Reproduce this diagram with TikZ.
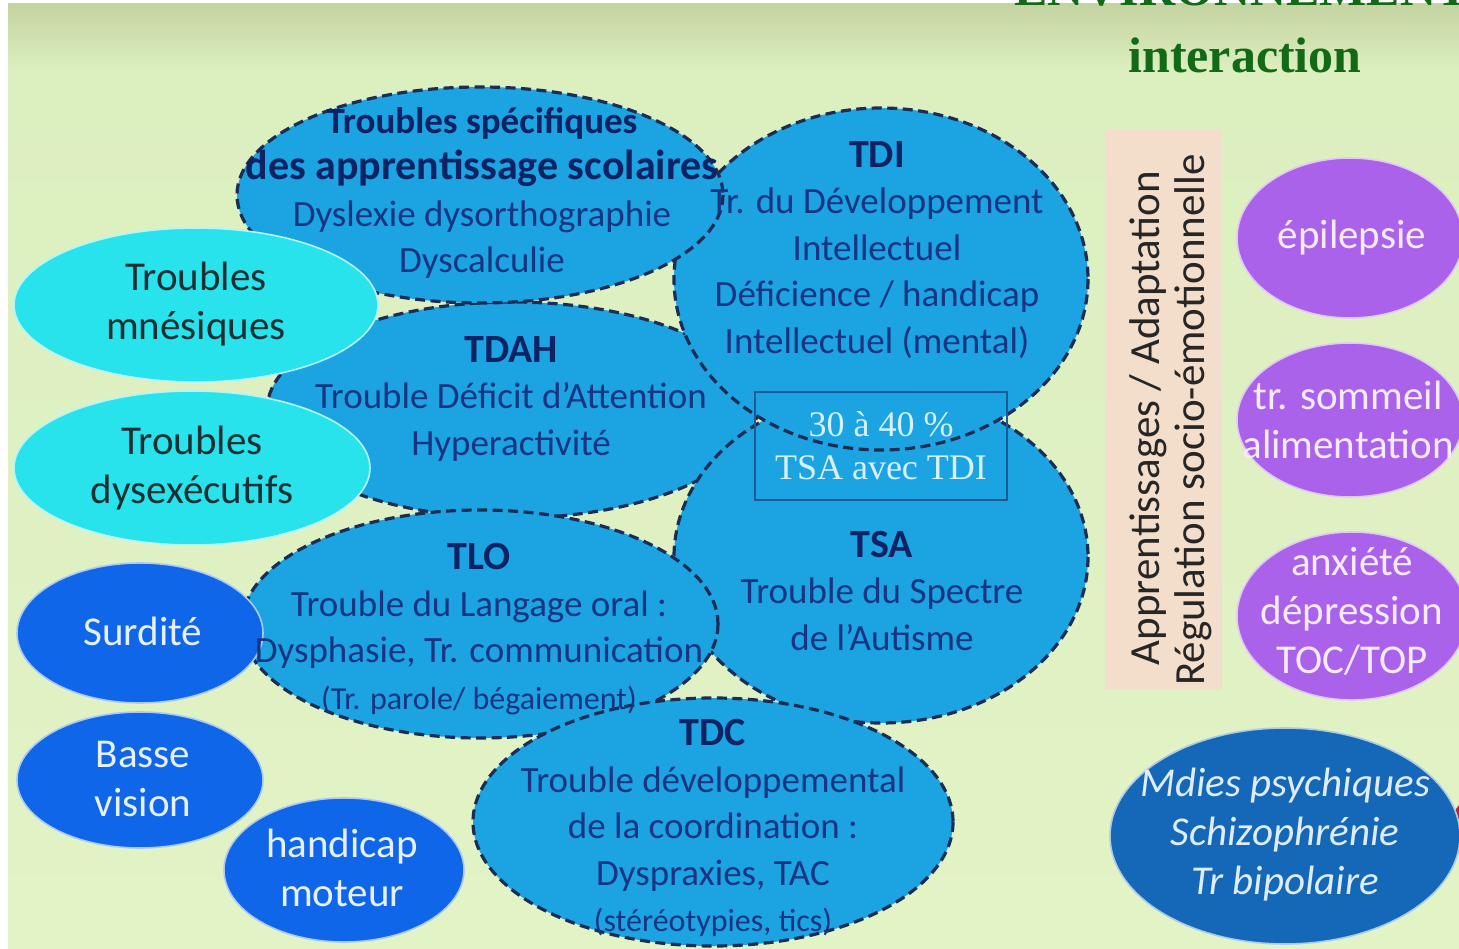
\documentclass[tikz,border=0pt]{standalone}
\usepackage{fontspec}
\setmainfont{Carlito}
\newfontfamily\seriffont{Liberation Serif}
\newcommand\tkhead{\bfseries\fontsize{40}{46.5}\selectfont\color{thead}}
\definecolor{bgtop}{RGB}{196,211,160}
\definecolor{bgmid}{RGB}{220,239,191}
\definecolor{bgbot}{RGB}{226,243,198}
\definecolor{tblue}{RGB}{27,163,226}
\definecolor{tdash}{RGB}{28,45,85}
\definecolor{tnavy}{RGB}{24,52,130}
\definecolor{thead}{RGB}{14,34,100}
\definecolor{tcyan}{RGB}{40,226,236}
\definecolor{tcyantext}{RGB}{28,48,52}
\definecolor{tdblue}{RGB}{16,102,232}
\definecolor{tpurple}{RGB}{170,98,234}
\definecolor{tmdies}{RGB}{21,104,184}
\definecolor{tpink}{RGB}{242,222,202}
\definecolor{tgreen}{RGB}{18,105,22}
\definecolor{tboxc}{RGB}{30,88,150}
\definecolor{tred}{RGB}{205,30,55}
\begin{document}
\begin{tikzpicture}[x=1pt,y=-1pt,
  dashb/.style={draw=tdash, line width=3.2pt, dash pattern=on 10pt off 5.5pt},
  rim/.style={draw=white!65!#1, line width=1.6pt, fill=#1},
  body/.style={align=center, text=tnavy, inner sep=0pt, font=\fontsize{37}{46.5}\selectfont},
  side/.style={align=center, inner sep=0pt, font=\fontsize{41}{49}\selectfont}
]
\useasboundingbox (0,0) rectangle (1459,949);
\clip (0,0) rectangle (1459,949);
\fill[white] (0,0) rectangle (1459,949);
\shade[top color=bgmid, bottom color=bgbot] (8,70) rectangle (1459,949);
\shade[top color=bgtop, bottom color=bgmid] (8,4) rectangle (1459,70.5);

% title
\node[anchor=base, text=tgreen, inner sep=0pt, font=\seriffont\bfseries\fontsize{50}{60}\selectfont] (env) at (1242,6) {ENVIRONNEMENT};
\node[text=tgreen, inner sep=0pt, font=\seriffont\bfseries\fontsize{50}{60}\selectfont] (inter) at (1245,55) {interaction};

% big dashed ellipses (stacking order)
\fill[tblue] (512,410) ellipse [x radius=245, y radius=108];
\draw[dashb] (512,410) ellipse [x radius=245, y radius=108];
\fill[tblue] (881,557) ellipse [x radius=207, y radius=166];
\draw[dashb] (881,557) ellipse [x radius=207, y radius=166];
\fill[tblue] (881,279) ellipse [x radius=207, y radius=171];
\draw[dashb] (881,279) ellipse [x radius=207, y radius=171];
\fill[tblue] (480,195) ellipse [x radius=243, y radius=108];
\draw[dashb] (480,195) ellipse [x radius=243, y radius=108];
\fill[tblue] (480,624) ellipse [x radius=238, y radius=114];
\draw[dashb] (480,624) ellipse [x radius=238, y radius=114];
\fill[tblue] (713,822) ellipse [x radius=240, y radius=124];
\draw[dashb] (713,822) ellipse [x radius=240, y radius=124];

% cyan ellipses
\path[rim=tcyan] (196,305) ellipse [x radius=182, y radius=77];
\path[rim=tcyan] (192,468) ellipse [x radius=178, y radius=77];
% dark blue ellipses
\path[rim=tdblue] (140,633) ellipse [x radius=123, y radius=70];
\path[rim=tdblue] (140,780) ellipse [x radius=123, y radius=68];
\path[rim=tdblue] (344,870) ellipse [x radius=120, y radius=72];
% purple ellipses
\path[rim=tpurple] (1350,238) ellipse [x radius=113, y radius=80];
\path[rim=tpurple] (1350,420) ellipse [x radius=113, y radius=77];
\path[rim=tpurple] (1352,616) ellipse [x radius=115, y radius=84];
% red partial and Mdies
\fill[tred] (1500,828) ellipse [x radius=50, y radius=40];
\path[rim=tmdies] (1285,836) ellipse [x radius=175, y radius=108];

% pink band
\fill[tpink] (1105,130) rectangle (1222,690);
\node[rotate=90, inner sep=0pt, text=black!85, font=\fontsize{43}{50}\selectfont] (appad) at (1148,418) {Apprentissages / Adaptation};
\node[rotate=90, inner sep=0pt, text=black!85, font=\fontsize{43}{50}\selectfont] (regul) at (1193,420) {Régulation socio-émotionnelle};

% texts of big ellipses
\node[body] (tapp) at (482,193) {{\bfseries\fontsize{37}{46.5}\selectfont\color{thead} Troubles spécifiques}\\{\bfseries\fontsize{42}{46.5}\selectfont\color{thead} des apprentissage scolaires}\\Dyslexie dysorthographie\\Dyscalculie};
\node[body] (ttdi) at (877,250) {{\tkhead TDI}\\Tr. du Développement\\Intellectuel\\Déficience / handicap\\Intellectuel (mental)};
\node[body] (ttdah) at (511,399) {{\tkhead TDAH}\\Trouble Déficit d’Attention\\Hyperactivité};
\node[body] (ttsa) at (882,591) {{\tkhead TSA}\\Trouble du Spectre\\de l’Autisme};
\node[body] (ttlo) at (479,629) {{\tkhead TLO}\\Trouble du Langage oral :\\Dysphasie, Tr. communication\\{\fontsize{32}{42}\selectfont (Tr. parole/ bégaiement)}};
\node[body] (ttdc) at (713,828) {{\tkhead TDC}\\Trouble développemental\\de la coordination :\\Dyspraxies, TAC\\{\fontsize{32}{42}\selectfont (stéréotypies, tics)}};

% box
\node[draw=tboxc, line width=1.3pt, minimum width=252pt, minimum height=108pt, align=center, text={rgb,255:red,215;green,240;blue,250}, font=\seriffont\fontsize{36}{43}\selectfont] (box) at (881,446) {30 à 40 \%\\TSA avec TDI};

% small ellipse texts
\node[side, text=tcyantext] (tmnes) at (196,304) {Troubles\\mnésiques};
\node[side, text=tcyantext] (tdysex) at (192,468) {Troubles\\dysexécutifs};
\node[side, text={rgb,255:red,230;green,240;blue,255}] (tsurd) at (143,631) {Surdité};
\node[side, text={rgb,255:red,230;green,240;blue,255}] (tbasse) at (143,779) {Basse\\vision};
\node[side, text={rgb,255:red,230;green,240;blue,255}] (thand) at (342,868) {handicap\\moteur};
\node[side, text={rgb,255:red,245;green,235;blue,255}] (tepi) at (1352,238) {épilepsie};
\node[side, text={rgb,255:red,245;green,235;blue,255}] (tsomm) at (1348,420) {tr. sommeil\\alimentation};
\node[side, text={rgb,255:red,245;green,235;blue,255}] (tanx) at (1352,611) {anxiété\\dépression\\TOC/TOP};
\node[side, text={rgb,255:red,222;green,236;blue,252}, font=\itshape\fontsize{41}{49}\selectfont] (tmdies) at (1285,835) {Mdies psychiques\\Schizophrénie\\Tr bipolaire};
\end{tikzpicture}
\end{document}
